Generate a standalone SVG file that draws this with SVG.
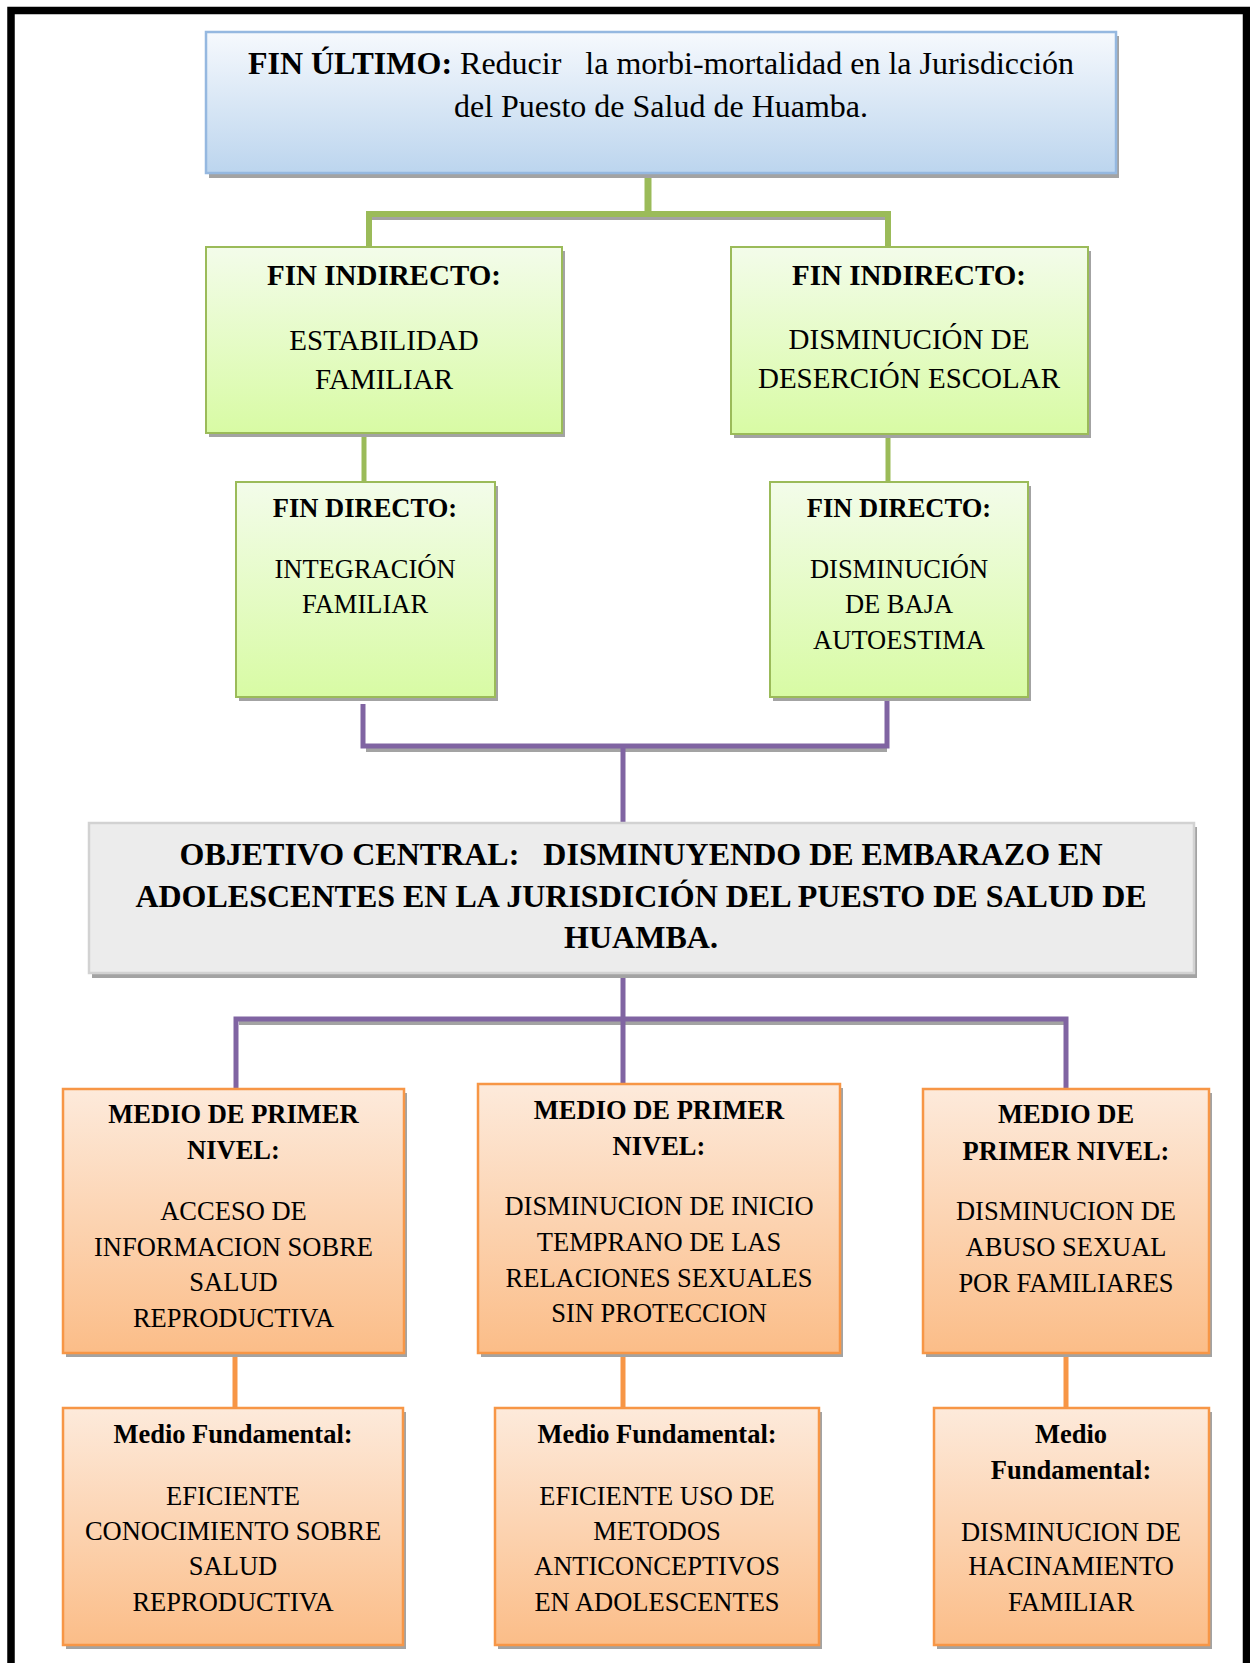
<svg xmlns="http://www.w3.org/2000/svg" width="1250" height="1663" viewBox="0 0 1250 1663">
<style>
text{font-family:"Liberation Serif","Times New Roman",serif;fill:#000;text-anchor:middle}
.b{font-weight:bold}
.f32{font-size:32px}
.f29{font-size:29px}
.f26{font-size:26.5px}
.sh{fill:#a3a3a3}
.blue{fill:url(#gBlue);stroke:#95b8e0;stroke-width:2.5}
.green{fill:url(#gGreen);stroke:#9bbb59;stroke-width:2}
.gray{fill:#ececec;stroke:#d2d2d2;stroke-width:2.5}
.orange{fill:url(#gOrange);stroke:#f79646;stroke-width:2.5}
.cg{stroke:#9bbb59;fill:none}
.cp{stroke:#8064a2;fill:none}
.co{stroke:#f79646;fill:none}
.cs{stroke:#a3a3a3;fill:none}
</style>
<defs>
<linearGradient id="gBlue" x1="0" y1="0" x2="0" y2="1">
<stop offset="0" stop-color="#f6f9fd"/>
<stop offset="1" stop-color="#bcd5ee"/>
</linearGradient>
<linearGradient id="gGreen" x1="0" y1="0" x2="0" y2="1">
<stop offset="0" stop-color="#f3fcea"/>
<stop offset="1" stop-color="#d8fba4"/>
</linearGradient>
<linearGradient id="gOrange" x1="0" y1="0" x2="0" y2="1">
<stop offset="0" stop-color="#fdeadb"/>
<stop offset="1" stop-color="#fbbd88"/>
</linearGradient>
</defs>
<rect width="1250" height="1663" fill="#fff"/>
<path d="M11,1663 V10.5 H1246.5 V1663" fill="none" stroke="#000" stroke-width="7.5"/>

<g id="connectors">
<path class="cs" stroke-width="4" d="M372,218 H888"/>
<path class="cg" stroke-width="7" d="M648,173 V214"/>
<path class="cg" stroke-width="6" d="M369,247 V214 H888 V247"/>
<path class="cg" stroke-width="5" d="M364,433 V482 M888,434 V482"/>
<path class="cs" stroke-width="4" d="M366,750 H887"/>
<path class="cp" stroke-width="5" d="M363,704 V746 H887 V697 M623,746 V823"/>
<path class="cs" stroke-width="4" d="M239,1023 H1066"/>
<path class="cp" stroke-width="5" d="M623,973 V1084 M236,1089 V1019 H1066 V1089"/>
<path class="co" stroke-width="5" d="M235,1353 V1408 M623,1353 V1408 M1066,1353 V1408"/>
</g>

<g id="fin-ultimo">
<rect class="sh" x="209" y="36" width="910" height="142"/>
<rect class="blue" x="206" y="32" width="910" height="141"/>
<text class="f32" x="661" y="74" xml:space="preserve"><tspan class="b">FIN ÚLTIMO:</tspan> Reducir   la morbi-mortalidad en la Jurisdicción</text>
<text class="f32" x="661" y="117">del Puesto de Salud de Huamba.</text>
</g>

<g id="fin-indirecto-1">
<rect class="sh" x="209" y="251" width="356" height="186"/>
<rect class="green" x="206" y="247" width="356" height="186"/>
<text class="f29 b" x="384" y="285">FIN INDIRECTO:</text>
<text class="f29" x="384" y="350">ESTABILIDAD</text>
<text class="f29" x="384" y="389">FAMILIAR</text>
</g>

<g id="fin-indirecto-2">
<rect class="sh" x="734" y="251" width="357" height="187"/>
<rect class="green" x="731" y="247" width="357" height="187"/>
<text class="f29 b" x="909" y="285">FIN INDIRECTO:</text>
<text class="f29" x="909" y="349">DISMINUCIÓN DE</text>
<text class="f29" x="909" y="388">DESERCIÓN ESCOLAR</text>
</g>

<g id="fin-directo-1">
<rect class="sh" x="239" y="486" width="259" height="215"/>
<rect class="green" x="236" y="482" width="259" height="215"/>
<text class="f26 b" x="365" y="517">FIN DIRECTO:</text>
<text class="f26" x="365" y="578">INTEGRACIÓN</text>
<text class="f26" x="365" y="613">FAMILIAR</text>
</g>

<g id="fin-directo-2">
<rect class="sh" x="773" y="486" width="258" height="215"/>
<rect class="green" x="770" y="482" width="258" height="215"/>
<text class="f26 b" x="899" y="517">FIN DIRECTO:</text>
<text class="f26" x="899" y="578">DISMINUCIÓN</text>
<text class="f26" x="899" y="613">DE BAJA</text>
<text class="f26" x="899" y="649">AUTOESTIMA</text>
</g>

<g id="objetivo-central">
<rect class="sh" x="92" y="827" width="1105" height="151"/>
<rect class="gray" x="89" y="823" width="1105" height="150"/>
<text class="f32 b" x="641" y="865" xml:space="preserve">OBJETIVO CENTRAL:   DISMINUYENDO DE EMBARAZO EN</text>
<text class="f32 b" x="641" y="907">ADOLESCENTES EN LA JURISDICIÓN DEL PUESTO DE SALUD DE</text>
<text class="f32 b" x="641" y="948">HUAMBA.</text>
</g>

<g id="medio-primer-1">
<rect class="sh" x="66" y="1093" width="341" height="264"/>
<rect class="orange" x="63" y="1089" width="341" height="264"/>
<text class="f26 b" x="233.5" y="1123">MEDIO DE PRIMER</text>
<text class="f26 b" x="233.5" y="1159">NIVEL:</text>
<text class="f26" x="233.5" y="1220">ACCESO DE</text>
<text class="f26" x="233.5" y="1256">INFORMACION SOBRE</text>
<text class="f26" x="233.5" y="1291">SALUD</text>
<text class="f26" x="233.5" y="1327">REPRODUCTIVA</text>
</g>

<g id="medio-primer-2">
<rect class="sh" x="481" y="1088" width="362" height="269"/>
<rect class="orange" x="478" y="1084" width="362" height="269"/>
<text class="f26 b" x="659" y="1119">MEDIO DE PRIMER</text>
<text class="f26 b" x="659" y="1155">NIVEL:</text>
<text class="f26" x="659" y="1215">DISMINUCION DE INICIO</text>
<text class="f26" x="659" y="1251">TEMPRANO DE LAS</text>
<text class="f26" x="659" y="1287">RELACIONES SEXUALES</text>
<text class="f26" x="659" y="1322">SIN PROTECCION</text>
</g>

<g id="medio-primer-3">
<rect class="sh" x="926" y="1093" width="286" height="264"/>
<rect class="orange" x="923" y="1089" width="286" height="264"/>
<text class="f26 b" x="1066" y="1123">MEDIO DE</text>
<text class="f26 b" x="1066" y="1160">PRIMER NIVEL:</text>
<text class="f26" x="1066" y="1220">DISMINUCION DE</text>
<text class="f26" x="1066" y="1256">ABUSO SEXUAL</text>
<text class="f26" x="1066" y="1292">POR FAMILIARES</text>
</g>

<g id="medio-fundamental-1">
<rect class="sh" x="66" y="1412" width="340" height="237"/>
<rect class="orange" x="63" y="1408" width="340" height="237"/>
<text class="f26 b" x="233" y="1443">Medio Fundamental:</text>
<text class="f26" x="233" y="1505">EFICIENTE</text>
<text class="f26" x="233" y="1540">CONOCIMIENTO SOBRE</text>
<text class="f26" x="233" y="1575">SALUD</text>
<text class="f26" x="233" y="1611">REPRODUCTIVA</text>
</g>

<g id="medio-fundamental-2">
<rect class="sh" x="498" y="1412" width="324" height="237"/>
<rect class="orange" x="495" y="1408" width="324" height="237"/>
<text class="f26 b" x="657" y="1443">Medio Fundamental:</text>
<text class="f26" x="657" y="1505">EFICIENTE USO DE</text>
<text class="f26" x="657" y="1540">METODOS</text>
<text class="f26" x="657" y="1575">ANTICONCEPTIVOS</text>
<text class="f26" x="657" y="1611">EN ADOLESCENTES</text>
</g>

<g id="medio-fundamental-3">
<rect class="sh" x="937" y="1412" width="275" height="237"/>
<rect class="orange" x="934" y="1408" width="275" height="237"/>
<text class="f26 b" x="1071" y="1443">Medio</text>
<text class="f26 b" x="1071" y="1479">Fundamental:</text>
<text class="f26" x="1071" y="1541">DISMINUCION DE</text>
<text class="f26" x="1071" y="1575">HACINAMIENTO</text>
<text class="f26" x="1071" y="1611">FAMILIAR</text>
</g>
</svg>
